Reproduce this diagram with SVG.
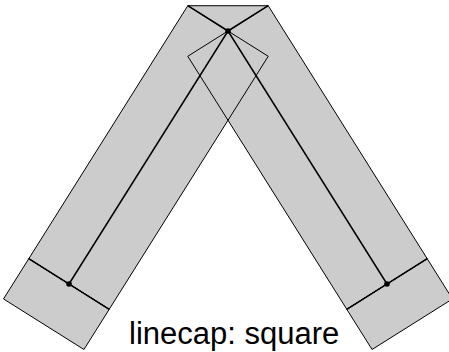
<svg xmlns="http://www.w3.org/2000/svg" width="449" height="352" viewBox="0 0 449 352">
<style>
.edge{fill:none;stroke:#000;stroke-width:1}
.perp{fill:none;stroke:#000;stroke-width:1.5}
.center{fill:none;stroke:#000;stroke-width:1.5}
.dot{fill:#000}
.label{font-family:"Liberation Sans",Arial,sans-serif;font-size:31px;fill:#000}
</style>
<rect width="449" height="352" fill="#fff"/>
<g id="stroke-fill">
<polyline points="69,284 228,31 387,284" fill="none" stroke="#cccccc" stroke-width="95" stroke-linecap="square" stroke-linejoin="bevel"/>
</g>
<g id="connectors">
<g id="left-segment">
<polygon class="edge" points="28.78,258.73 109.22,309.27 268.22,56.27 187.78,5.73"/>
<polygon class="edge" points="28.78,258.73 3.51,298.94 83.95,349.49 109.22,309.27"/>
<line class="perp" x1="28.78" y1="258.73" x2="109.22" y2="309.27"/>
<line class="perp" x1="228" y1="31" x2="187.78" y2="5.73"/>
</g>
<g id="right-segment">
<polygon class="edge" points="268.22,5.73 187.78,56.27 346.78,309.27 427.22,258.73"/>
<polygon class="edge" points="427.22,258.73 452.49,298.95 372.05,349.49 346.78,309.27"/>
<line class="perp" x1="427.22" y1="258.73" x2="346.78" y2="309.27"/>
<line class="perp" x1="228" y1="31" x2="268.22" y2="5.73"/>
</g>
<line id="bevel" class="edge" x1="187.78" y1="5.73" x2="268.22" y2="5.73" stroke="#666"/>
<polyline id="centerline" class="center" points="69,284 228,31 387,284"/>
</g>
<g id="points">
<circle class="dot" cx="69" cy="284" r="2.8"/>
<circle class="dot" cx="228" cy="31" r="2.8"/>
<circle class="dot" cx="387" cy="284" r="2.8"/>
</g>
<text class="label" x="129" y="344">linecap: square</text>
</svg>
